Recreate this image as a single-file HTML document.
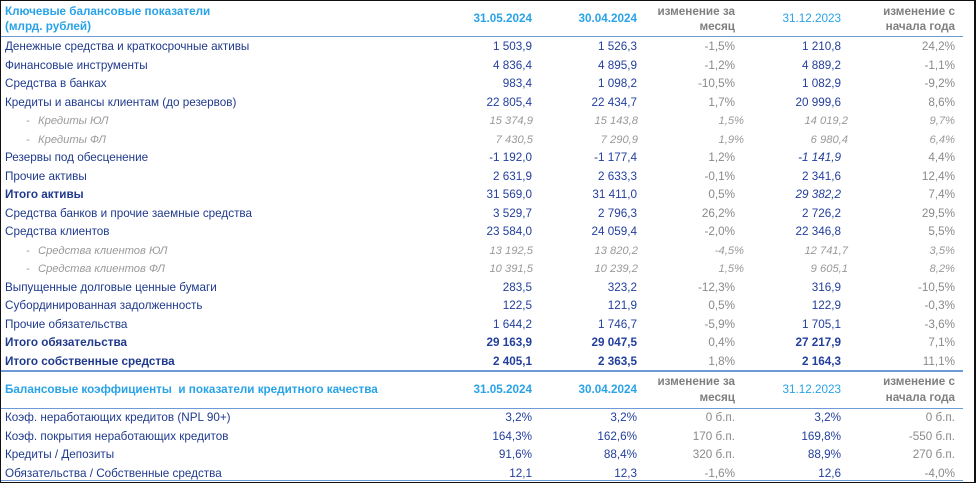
<!DOCTYPE html>
<html><head><meta charset="utf-8">
<style>
body{margin:0;background:#fff;}
#frame{position:absolute;left:0;top:0;width:973px;height:481px;border:1px solid #111;border-right:2px solid #111;border-bottom:1px solid #111;overflow:hidden;background:#fff;font-family:"Liberation Sans","Noto Sans CJK SC",sans-serif;}
.t{position:absolute;white-space:nowrap;font-size:11.7px;line-height:14px;}
.lbl{color:#1f3a8c;left:4px;}
.num{color:#233f9c;text-align:right;}
.chg{color:#8a8a8a;text-align:right;}
.sub{font-style:italic;color:#9a9a9a;font-size:11.2px;}
.b{font-weight:bold;}
.hdr{color:#29a3e8;font-weight:bold;}
.hdrg{color:#7f7f7f;font-weight:bold;text-align:right;}
.line{position:absolute;left:0;width:962px;background:#6f9ad8;}
</style></head><body>
<div id="frame">
<div class="t hdr" style="left:4px;top:4px">Ключевые балансовые показатели</div>
<div class="t hdr" style="left:4px;top:19px">(млрд. рублей)</div>
<div class="line" style="top:35px;height:1px"></div>
<div class="line" style="top:369px;height:2px"></div>
<div class="line" style="top:407px;height:1px"></div>
<div class="line" style="top:479px;height:1px"></div>
</div>
<script>
const F=document.getElementById('frame');
const colRight=[533,638,736,842,956];
const subRight=[534,639,745,849,956];
function put(txt,cls,left,right,y){
  const d=document.createElement('div');
  d.className='t '+cls;
  d.textContent=txt;
  d.style.top=(y-7)+'px';
  if(right!==null){d.style.right=(975-right)+'px';}
  else d.style.left=left+'px';
  F.appendChild(d);
  return d;
}
function hdrRow(yMain,yTop,yBot,sec){
  let d;
  d=put('31.05.2024','hdr',null,colRight[0],yMain);d.style.textAlign='right';
  
  d=put('30.04.2024','hdr',null,colRight[1],yMain);
  
  d=put('изменение за','hdrg',null,colRight[2],yTop);
  
  d=put('месяц','hdrg',null,colRight[2],yBot);
  
  d=put('31.12.2023','hdr',null,colRight[3],yMain);d.style.fontWeight='normal';
  
  d=put('изменение с','hdrg',null,colRight[4],yTop);
  
  d=put('начала года','hdrg',null,colRight[4],yBot);
  
}
hdrRow(18,11,26,'');
hdrRow(389,381,397,'-ratios');
let d=put('Балансовые коэффициенты  и показатели кредитного качества','hdr',4,null,389);
d.style.whiteSpace='pre';


const labels=['Денежные средства и краткосрочные активы','Финансовые инструменты','Средства в банках','Кредиты и авансы клиентам (до резервов)','Кредиты ЮЛ','Кредиты ФЛ','Резервы под обесценение','Прочие активы','Итого активы','Средства банков и прочие заемные средства','Средства клиентов','Средства клиентов ЮЛ','Средства клиентов ФЛ','Выпущенные долговые ценные бумаги','Субординированная задолженность','Прочие обязательства','Итого обязательства','Итого собственные средства'];
const v1=['1 503,9','4 836,4','983,4','22 805,4','15 374,9','7 430,5','-1 192,0','2 631,9','31 569,0','3 529,7','23 584,0','13 192,5','10 391,5','283,5','122,5','1 644,2','29 163,9','2 405,1'];
const v2=['1 526,3','4 895,9','1 098,2','22 434,7','15 143,8','7 290,9','-1 177,4','2 633,3','31 411,0','2 796,3','24 059,4','13 820,2','10 239,2','323,2','121,9','1 746,7','29 047,5','2 363,5'];
const mchg=['-1,5%','-1,2%','-10,5%','1,7%','1,5%','1,9%','1,2%','-0,1%','0,5%','26,2%','-2,0%','-4,5%','1,5%','-12,3%','0,5%','-5,9%','0,4%','1,8%'];
const v4=['1 210,8','4 889,2','1 082,9','20 999,6','14 019,2','6 980,4','-1 141,9','2 341,6','29 382,2','2 726,2','22 346,8','12 741,7','9 605,1','316,9','122,9','1 705,1','27 217,9','2 164,3'];
const ychg=['24,2%','-1,1%','-9,2%','8,6%','9,7%','6,4%','4,4%','12,4%','7,4%','29,5%','5,5%','3,5%','8,2%','-10,5%','-0,3%','-3,6%','7,1%','11,1%'];
const kinds=['n','n','n','n','s','s','n','n','a','n','n','s','s','n','n','n','b','b'];
const rlabels=['Коэф. неработающих кредитов (NPL 90+)','Коэф. покрытия неработающих кредитов','Кредиты / Депозиты','Обязательства / Собственные средства'];
const r1=['3,2%','164,3%','91,6%','12,1'];
const r2=['3,2%','162,6%','88,4%','12,3'];
const rm=['0 б.п.','170 б.п.','320 б.п.','-1,6%'];
const r4=['3,2%','169,8%','88,9%','12,6'];
const ry=['0 б.п.','-550 б.п.','270 б.п.','-4,0%'];

function row(i,y,lab,a,b,c,e,f,k,prefix){
  const sub=k==='s';
  const R=sub?subRight:colRight;
  let el;
  if(sub){
    el=put('-','lbl sub',25,null,y);
    
    el=put(lab,'lbl sub',37,null,y);
  } else {
    el=put(lab,'lbl'+(k==='a'||k==='b'?' b':''),4,null,y);
  }
  
  const bc=k==='b'?' b':'';
  const sc=sub?' sub':'';
  el=put(a,'num'+bc+sc,null,R[0],y);
  
  el=put(b,'num'+bc+sc,null,R[1],y);
  
  el=put(c,'chg'+sc,null,R[2],y);
  
  el=put(e,'num'+bc+sc,null,R[3],y);
  if(prefix==='bal'&&(i===6||i===8))el.style.fontStyle='italic';
  
  el=put(f,'chg'+sc,null,R[4],y);
  
}
for(let i=0;i<labels.length;i++){
  row(i,46+i*18.5,labels[i],v1[i],v2[i],mchg[i],v4[i],ychg[i],kinds[i],'bal');
}
for(let i=0;i<rlabels.length;i++){
  row(i,417+i*18.5,rlabels[i],r1[i],r2[i],rm[i],r4[i],ry[i],'n','ratio');
}
</script>
</body></html>
